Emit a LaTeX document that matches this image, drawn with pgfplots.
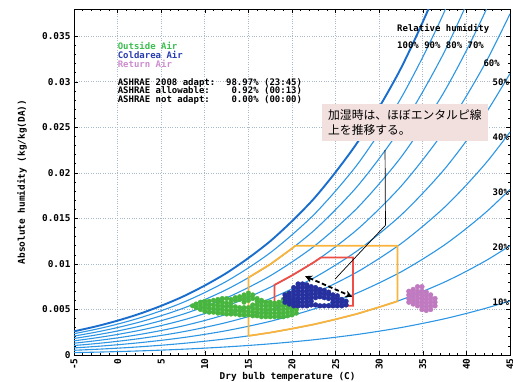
\documentclass[border=0pt]{standalone}
\usepackage{pgfplots}
\pgfplotsset{compat=1.18}
\usepackage{pgfplotstable}
\usepackage{fontspec}
\usetikzlibrary{arrows.meta}
\newfontfamily\mono{DejaVu Sans Mono}
\newfontfamily\jp{Noto Sans CJK JP}
\newcommand\lab{\mono\bfseries\fontsize{9}{9}\selectfont}
\newcommand\tlab{\mono\bfseries\fontsize{9.4}{9.4}\selectfont}
\definecolor{rhblue}{RGB}{45,150,228}
\definecolor{satblue}{RGB}{25,110,205}
\definecolor{gcol}{RGB}{72,182,62}
\definecolor{bcol}{RGB}{38,48,158}
\definecolor{pcol}{RGB}{192,122,192}
\definecolor{ocol}{RGB}{250,180,60}
\definecolor{rcol}{RGB}{238,78,70}
\definecolor{gridc}{RGB}{170,185,200}
\definecolor{boxpink}{RGB}{242,224,222}
\definecolor{txtgreen}{RGB}{60,190,80}
\definecolor{txtblue}{RGB}{40,60,175}
\definecolor{txtpink}{RGB}{205,140,205}

\pgfplotstableread{
T r100 r90 r80 r70 r60 r50 r40 r30 r20 r10
-5 0.002600 0.002339 0.002078 0.001817 0.001557 0.001297 0.001037 0.000778 0.000518 0.000259
-2.5 0.003138 0.002823 0.002508 0.002194 0.001879 0.001566 0.001252 0.000938 0.000625 0.000313
0 0.003775 0.003395 0.003016 0.002638 0.002259 0.001882 0.001504 0.001128 0.000751 0.000375
2.5 0.004520 0.004065 0.003611 0.003157 0.002704 0.002252 0.001800 0.001349 0.000899 0.000449
5 0.005403 0.004859 0.004315 0.003772 0.003231 0.002690 0.002150 0.001611 0.001073 0.000536
7.5 0.006422 0.005774 0.005127 0.004482 0.003837 0.003195 0.002553 0.001913 0.001274 0.000636
10 0.007632 0.006860 0.006091 0.005323 0.004557 0.003793 0.003031 0.002270 0.001512 0.000755
12.5 0.009011 0.008098 0.007188 0.006280 0.005375 0.004473 0.003573 0.002676 0.001781 0.000890
15 0.010650 0.009569 0.008491 0.007417 0.006347 0.005280 0.004217 0.003157 0.002101 0.001049
17.5 0.012498 0.011226 0.009959 0.008696 0.007439 0.006187 0.004940 0.003698 0.002460 0.001228
20 0.014699 0.013198 0.011704 0.010217 0.008737 0.007264 0.005797 0.004338 0.002885 0.001439
22.5 0.017159 0.015401 0.013652 0.011913 0.010183 0.008463 0.006752 0.005050 0.003358 0.001674
25 0.020086 0.018019 0.015966 0.013925 0.011898 0.009884 0.007882 0.005893 0.003916 0.001952
27.5 0.023343 0.020930 0.018535 0.016158 0.013798 0.011456 0.009131 0.006824 0.004532 0.002258
30 0.027210 0.024382 0.021579 0.018800 0.016045 0.013313 0.010605 0.007920 0.005258 0.002618
32.5 0.031503 0.028210 0.024950 0.021722 0.018527 0.015362 0.012230 0.009127 0.006055 0.003013
35 0.036584 0.032733 0.028927 0.025165 0.021446 0.017770 0.014135 0.010541 0.006988 0.003475
37.5 0.042245 0.037764 0.033343 0.028981 0.024676 0.020429 0.016236 0.012098 0.008014 0.003981
40 0.048894 0.043661 0.038510 0.033437 0.028442 0.023522 0.018677 0.013903 0.009200 0.004566
42.5 0.056367 0.050275 0.044290 0.038412 0.032637 0.026962 0.021384 0.015901 0.010511 0.005212
45 0.065057 0.057945 0.050979 0.044154 0.037467 0.030911 0.024486 0.018186 0.012007 0.005946
}\rh

\pgfplotstableread{
T W
8.6 0.0054
9.0 0.0052
9.0 0.0056
9.5 0.0050
9.5 0.0054
9.5 0.0058
10 0.0048
10 0.0052
10 0.0056
10 0.0059
10.5 0.0047
10.5 0.0051
10.5 0.0055
10.5 0.0059
11 0.0047
11 0.0051
11 0.0055
11 0.0060
11.5 0.0046
11.5 0.0050
11.5 0.0054
11.5 0.0058
11.5 0.0061
12 0.0046
12 0.0050
12 0.0054
12 0.0058
12 0.0062
12.5 0.0045
12.5 0.0049
12.5 0.0053
12.5 0.0057
12.5 0.0062
13 0.0045
13 0.0049
13 0.0053
13 0.0057
13 0.0061
13.5 0.0045
13.5 0.0049
13.5 0.0053
13.5 0.0060
13.5 0.0063
14 0.0044
14 0.0048
14 0.0052
14 0.0061
14 0.0064
14.5 0.0044
14.5 0.0048
14.5 0.0052
14.5 0.0058
14.5 0.0062
14.5 0.0066
15 0.0044
15 0.0048
15 0.0052
15 0.0060
15 0.0064
15 0.0068
15.5 0.0043
15.5 0.0047
15.5 0.0051
15.5 0.0055
15.5 0.0062
15.5 0.0066
16 0.0043
16 0.0047
16 0.0051
16 0.0055
16 0.0059
16 0.0062
16.5 0.0042
16.5 0.0046
16.5 0.0050
16.5 0.0054
16.5 0.0058
16.5 0.0060
17 0.0042
17 0.0046
17 0.0050
17 0.0054
17 0.0058
17.5 0.0042
17.5 0.0046
17.5 0.0050
17.5 0.0054
17.5 0.0058
18 0.0042
18 0.0046
18 0.0050
18 0.0054
18 0.0057
18.5 0.0042
18.5 0.0046
18.5 0.0050
18.5 0.0054
18.5 0.0058
19 0.0042
19 0.0046
19 0.0050
19 0.0054
19 0.0058
19 0.0061
19.5 0.0043
19.5 0.0047
19.5 0.0051
19.5 0.0055
19.5 0.0059
19.5 0.0063
19.5 0.0067
20 0.0044
20 0.0048
20 0.0052
20 0.0056
20 0.0060
20.5 0.0046
20.5 0.0050
20.5 0.0054
}\outside

\pgfplotstableread{
T W
19.2 0.0058
19.2 0.0062
19.2 0.0066
19.7 0.0056
19.7 0.0060
19.7 0.0064
19.7 0.0068
20.2 0.0054
20.2 0.0058
20.2 0.0062
20.2 0.0066
20.2 0.0070
20.2 0.0074
20.7 0.0054
20.7 0.0058
20.7 0.0062
20.7 0.0066
20.7 0.0070
20.7 0.0074
20.7 0.0078
21.2 0.0054
21.2 0.0058
21.2 0.0062
21.2 0.0066
21.2 0.0070
21.2 0.0074
21.2 0.0078
21.7 0.0054
21.7 0.0058
21.7 0.0062
21.7 0.0066
21.7 0.0070
21.7 0.0074
21.7 0.0077
22.2 0.0055
22.2 0.0059
22.2 0.0063
22.2 0.0067
22.2 0.0071
22.2 0.0075
22.7 0.0055
22.7 0.0063
22.7 0.0067
22.7 0.0071
22.7 0.0074
23.2 0.0054
23.2 0.0064
23.2 0.0068
23.2 0.0072
23.7 0.0054
23.7 0.0063
23.7 0.0067
23.7 0.0071
24.2 0.0054
24.2 0.0062
24.2 0.0066
24.2 0.0069
24.7 0.0054
24.7 0.0058
24.7 0.0062
24.7 0.0066
25.2 0.0054
25.2 0.0058
25.2 0.0062
25.2 0.0065
25.7 0.0054
25.7 0.0058
25.7 0.0061
26.2 0.0055
26.2 0.0059
}\coldarea

\pgfplotstableread{
T W
33.4 0.0058
33.4 0.0062
33.4 0.0066
33.4 0.0070
33.9 0.0056
33.9 0.0060
33.9 0.0064
33.9 0.0068
33.9 0.0072
34.4 0.0054
34.4 0.0058
34.4 0.0062
34.4 0.0066
34.4 0.0070
34.4 0.0075
34.9 0.0050
34.9 0.0054
34.9 0.0058
34.9 0.0062
34.9 0.0066
34.9 0.0070
34.9 0.0075
35.4 0.0049
35.4 0.0053
35.4 0.0057
35.4 0.0061
35.4 0.0065
35.4 0.0069
35.9 0.0050
35.9 0.0054
35.9 0.0058
35.9 0.0062
35.9 0.0066
36.4 0.0054
36.4 0.0058
36.4 0.0062
}\returnair

\begin{document}
\begin{tikzpicture}
\begin{axis}[
  at={(0,0)}, anchor=south west,
  scale only axis, width=436pt, height=346pt,
  xmin=-5, xmax=45, ymin=0, ymax=0.038,
  clip mode=individual,
  axis line style={black, line width=0.8pt},
  xtick={-5,0,5,10,15,20,25,30,35,40,45},
  xticklabels={-5,0,5,10,15,20,25,30,35,40,45},
  ytick={0,0.005,0.01,0.015,0.02,0.025,0.03,0.035},
  yticklabels={0,0.005,0.01,0.015,0.02,0.025,0.03,0.035},
  minor x tick num=4, minor y tick num=4,
  major tick length=4pt, minor tick length=2.2pt,
  tick style={black, line width=0.6pt},
  grid=major,
  major grid style={gridc, dotted, line width=0.7pt},
  ticklabel style={font=\tlab},
  xticklabel style={rotate=90, anchor=east},
  xlabel={Dry bulb temperature (C)},
  ylabel={Absolute humidity (kg/kg(DA))},
  every axis x label/.style={at={(axis description cs:0.49,-0.064)}, anchor=center, font=\tlab},
  every axis y label/.style={at={(axis description cs:-0.1193,0.5)}, rotate=90, anchor=center, font=\tlab},
]
\addplot[rhblue, line width=1.1pt, smooth] table[x=T,y=r10]{\rh};
\addplot[rhblue, line width=1.1pt, smooth] table[x=T,y=r20]{\rh};
\addplot[rhblue, line width=1.1pt, smooth] table[x=T,y=r30]{\rh};
\addplot[rhblue, line width=1.1pt, smooth] table[x=T,y=r40]{\rh};
\addplot[rhblue, line width=1.1pt, smooth] table[x=T,y=r50]{\rh};
\addplot[rhblue, line width=1.1pt, smooth] table[x=T,y=r60]{\rh};
\addplot[rhblue, line width=1.1pt, smooth] table[x=T,y=r70]{\rh};
\addplot[rhblue, line width=1.1pt, smooth] table[x=T,y=r80]{\rh};
\addplot[rhblue, line width=1.1pt, smooth] table[x=T,y=r90]{\rh};
\addplot[satblue, line width=1.9pt, smooth] table[x=T,y=r100]{\rh};

\addplot[ocol, line width=1.8pt] coordinates {(15,0.0021)(15,0.0085)(17.5,0.00996)(20,0.0117)(20.35,0.0120)(32.1,0.0120)(32.1,0.0059)(30,0.00526)(27.5,0.00453)(25,0.00392)(22.5,0.00336)(20,0.00289)(17.5,0.00246)(15,0.0021)};
\addplot[rcol, line width=1.8pt] coordinates {(18,0.0054)(18,0.0077)(20,0.00874)(22.5,0.01018)(23.3,0.0107)(27,0.0107)(27,0.0054)(18,0.0054)};

\addplot[only marks, mark=*, mark size=2.3pt, color=gcol] table[x=T,y=W]{\outside};
\addplot[only marks, mark=*, mark size=2.4pt, color=bcol] table[x=T,y=W]{\coldarea};
\addplot[only marks, mark=*, mark size=2.4pt, color=pcol] table[x=T,y=W]{\returnair};

\addplot[black, line width=1.8pt, dash pattern=on 4.5pt off 2.5pt, {Stealth[length=7pt,width=7pt]}-{Stealth[length=7pt,width=7pt]}] coordinates {(21.5,0.00866)(26.9,0.0064)};
\addplot[black, line width=0.7pt] coordinates {(30.67,0.0225)(30.72,0.01425)(24.93,0.00833)};

\node[fill=boxpink, anchor=north west, inner xsep=6pt, inner ysep=0pt, minimum width=165pt, minimum height=37pt, align=left, font=\jp\fontsize{11.8}{15}\selectfont] at (axis cs:23.44,0.02763) {加湿時は、ほぼエンタルピ線\\上を推移する。};

\begin{scope}[every node/.style={inner sep=0pt, anchor=west, font=\lab, text height=6.6pt, text depth=0pt}]
\node[text=txtgreen] at (axis cs:0,0.03391) {Outside Air};
\node[text=txtblue] at (axis cs:0,0.03289) {Coldarea Air};
\node[text=txtpink] at (axis cs:0,0.03191) {Return Air};
\node at (axis cs:0,0.02997) {ASHRAE 2008 adapt:~~98.97\% (23:45)};
\node at (axis cs:0,0.02906) {ASHRAE allowable:~~~~0.92\% (00:13)};
\node at (axis cs:0,0.02807) {ASHRAE not adapt:~~~~0.00\% (00:00)};
\node at (axis cs:32.04,0.03586) {Relative humidity};
\node at (axis cs:32.04,0.0340) {100\% 90\% 80\% 70\%};
\node[anchor=east] at (axis cs:43.85,0.03202) {60\%};
\node[anchor=east] at (axis cs:44.9,0.02993) {50\%};
\node[anchor=east] at (axis cs:44.9,0.0239) {40\%};
\node[anchor=east] at (axis cs:44.9,0.01787) {30\%};
\node[anchor=east] at (axis cs:44.9,0.01184) {20\%};
\node[anchor=east] at (axis cs:44.9,0.00581) {10\%};
\end{scope}
\end{axis}
\pgfresetboundingbox
\path[use as bounding box] (-74pt,-26pt) rectangle (439pt,355pt);
\end{tikzpicture}
\end{document}
